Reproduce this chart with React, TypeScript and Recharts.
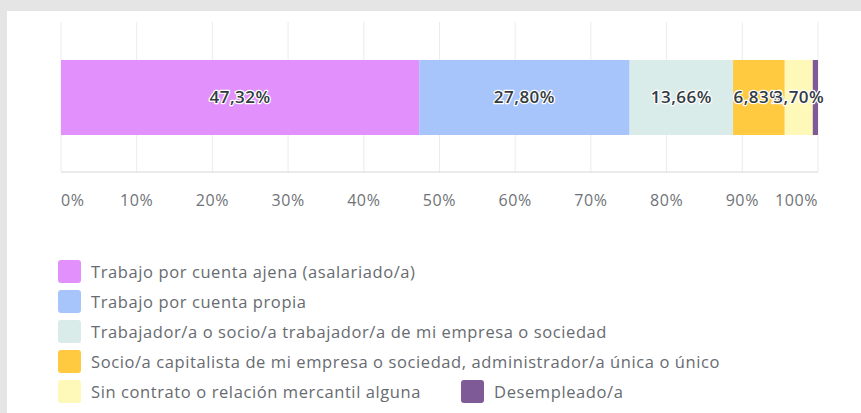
import React from "react";
import { BarChart, Bar, XAxis, YAxis, CartesianGrid, Legend, LabelList } from "recharts";

const categories = [
  "Trabajo por cuenta ajena (asalariado/a)",
  "Trabajo por cuenta propia",
  "Trabajador/a o socio/a trabajador/a de mi empresa o sociedad",
  "Socio/a capitalista de mi empresa o sociedad, administrador/a única o único",
  "Sin contrato o relación mercantil alguna",
  "Desempleado/a",
];
const values = [47.32, 27.8, 13.66, 6.83, 3.7, 0.69];
const colors = ["#e290fb", "#a7c5fb", "#d9ecea", "#ffc940", "#fef8b9", "#7e5a97"];
const xTicks = [0, 10, 20, 30, 40, 50, 60, 70, 80, 90, 100];

const row: Record<string, number | string> = { name: "total" };
categories.forEach((c, i) => (row["s" + i] = values[i]));
const data = [row];

const FONT = "'Open Sans', sans-serif";

function fmt(v: number) {
  return v.toFixed(2).replace(".", ",") + "%";
}

function AxisTick(props: any) {
  const { x, y, payload, index } = props;
  const last = xTicks.length - 1;
  const anchor = index === 0 ? "start" : index === last ? "end" : "middle";
  return (
    <text
      x={x}
      y={y + 28}
      dy="0.35em"
      textAnchor={anchor}
      fill="#6f7377"
      fontSize={16}
      letterSpacing={0.6}
      fontFamily={FONT}
    >
      {payload.value}%
    </text>
  );
}

function BarLabel(props: any) {
  const { x, y, width, height, value } = props;
  if (value < 1) return null;
  return (
    <text
      x={x + width / 2}
      y={y + height / 2}
      dy="0.35em"
      textAnchor="middle"
      fill="#333b42"
      fontSize={17}
      fontWeight={600}
      letterSpacing={0.5}
      fontFamily={FONT}
      stroke="#ffffff"
      strokeWidth={2.5}
      paintOrder="stroke"
      strokeLinejoin="round"
    >
      {fmt(value)}
    </text>
  );
}

function LegendItem({ color, label }: { color: string; label: string }) {
  return (
    <div style={{ display: "flex", alignItems: "center", height: 30, marginRight: 40 }}>
      <div style={{ width: 23, height: 23, borderRadius: 3, background: color, marginRight: 10 }} />
      <span
        style={{ fontSize: 16.5, letterSpacing: 0.6, color: "#676b70", fontFamily: FONT, whiteSpace: "nowrap" }}
      >
        {label}
      </span>
    </div>
  );
}

function LegendBox() {
  const items = categories.map((c, i) => <LegendItem key={c} color={colors[i]} label={c} />);
  return (
    <div style={{ height: 150, paddingLeft: 51 }}>
      {items.slice(0, 4)}
      <div style={{ display: "flex" }}>{items.slice(4)}</div>
    </div>
  );
}

export default function App() {
  return (
    <div style={{ position: "absolute", left: 0, top: 0, width: 861, height: 413, background: "#e5e5e5" }}>
      <div style={{ position: "absolute", left: 7, top: 11, width: 854, height: 402, background: "#ffffff" }}>
        <BarChart
          width={854}
          height={402}
          data={data}
          layout="vertical"
          margin={{ top: 11, right: 43, left: 54, bottom: 7 }}
        >
          <CartesianGrid horizontal={false} stroke="#ececec" />
          <XAxis
            type="number"
            domain={[0, 100]}
            ticks={xTicks}
            tick={<AxisTick />}
            tickLine={false}
            tickSize={0}
            tickMargin={0}
            height={84}
            stroke="#d6d6d6"
            interval={0}
          />
          <YAxis type="category" dataKey="name" width={0} tick={false} tickLine={false} stroke="#d6d6d6" />
          <Legend verticalAlign="bottom" align="left" content={<LegendBox />} wrapperStyle={{ left: 0 }} />
          {categories.map((c, i) => (
            <Bar key={c} dataKey={"s" + i} name={c} stackId="a" fill={colors[i]} barSize={75} isAnimationActive={false}>
              <LabelList dataKey={"s" + i} content={<BarLabel />} />
            </Bar>
          ))}
        </BarChart>
      </div>
    </div>
  );
}
